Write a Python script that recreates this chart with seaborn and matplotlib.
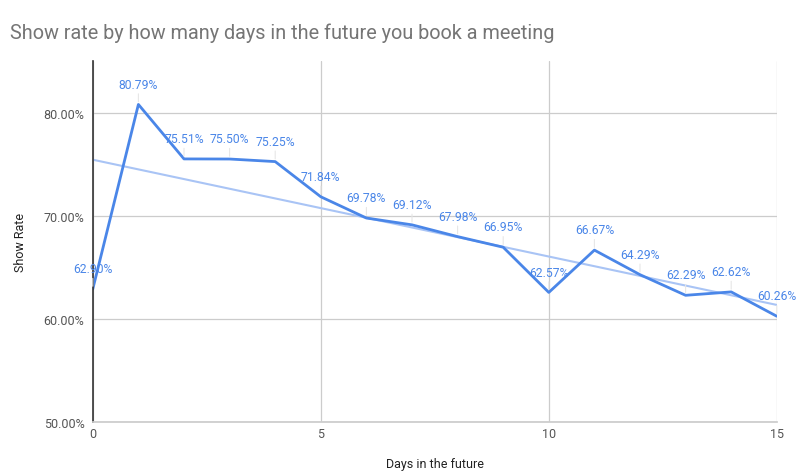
import matplotlib
matplotlib.use("Agg")
import matplotlib.pyplot as plt
import seaborn as sns
import pandas as pd
import numpy as np

days = list(range(16))
show_rate = [62.90, 80.79, 75.51, 75.50, 75.25, 71.84, 69.78, 69.12,
             67.98, 66.95, 62.57, 66.67, 64.29, 62.29, 62.62, 60.26]
y_ticks = [50, 60, 70, 80]
x_ticks = [0, 5, 10, 15]

sns.set_theme(style="white")
plt.rcParams['font.family'] = ['Roboto', 'DejaVu Sans']

df = pd.DataFrame({'Days': days, 'Show Rate': show_rate})

fig = plt.figure(figsize=(8, 4.77), dpi=100)
ax = fig.add_axes([0.116, 0.113, 0.855, 0.757])

# linear trendline
slope, intercept = np.polyfit(df['Days'], df['Show Rate'], 1)
df['Trend'] = slope * df['Days'] + intercept
sns.lineplot(data=df, x='Days', y='Trend', ax=ax, color='#a9c4f5', linewidth=1.5)

sns.lineplot(data=df, x='Days', y='Show Rate', ax=ax, color='#4a86e8', linewidth=2)

for d, v in zip(days, show_rate):
    ax.annotate(f'{v:.2f}%', xy=(d, v), xytext=(0, 10), textcoords='offset points',
                ha='center', va='bottom', fontsize=8.7, color='#4a86e8',
                arrowprops=dict(arrowstyle='-', color='#e6e6e6', lw=0.8,
                                shrinkA=0, shrinkB=2))

ax.set_xlim(0, 15)
ax.set_ylim(50, 85)
ax.set_xticks(x_ticks)
ax.set_yticks(y_ticks)
ax.set_yticklabels([f'{t:.2f}%' for t in y_ticks])
ax.tick_params(axis='both', length=0, labelsize=9, colors='#555555')
ax.tick_params(axis='y', pad=6)
ax.grid(True, color='#cccccc', linewidth=0.9)
ax.set_axisbelow(True)

for s in ['top', 'right']:
    ax.spines[s].set_visible(False)
ax.spines['left'].set_color('#333333')
ax.spines['left'].set_linewidth(1.2)
ax.spines['bottom'].set_color('#cccccc')

ax.set_xlabel('Days in the future', fontsize=9, color='#222222', labelpad=12)
ax.set_ylabel('Show Rate', fontsize=9, color='#222222', labelpad=12)

fig.text(0.0125, 0.93, 'Show rate by how many days in the future you book a meeting',
         fontsize=14.3, color='#757575', ha='left', va='center')

fig.savefig('out.png', dpi=100)
